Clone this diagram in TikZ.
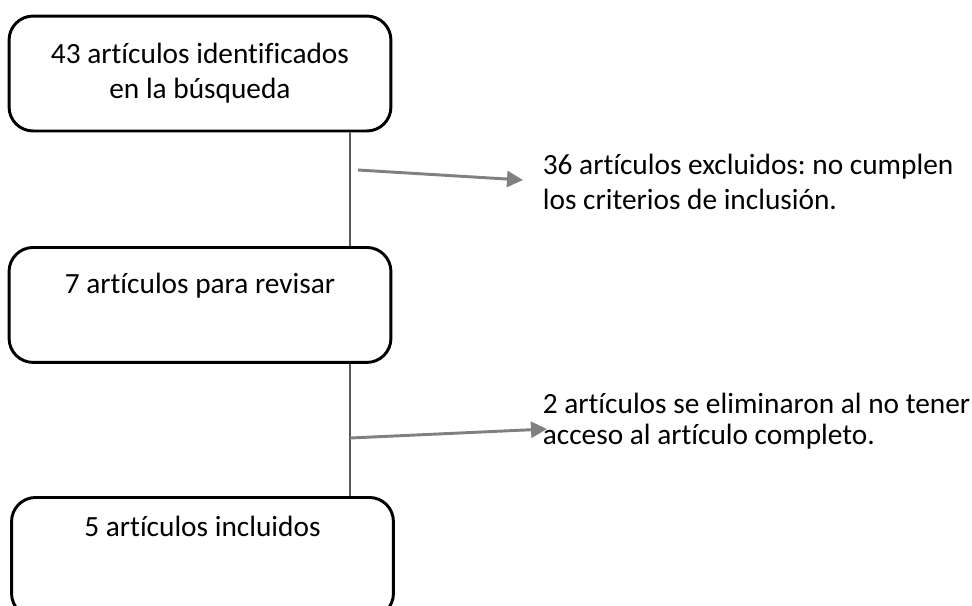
\documentclass[tikz,border=0pt]{standalone}
\usepackage{fontspec}
\setmainfont{Carlito}[Ligatures=NoCommon]
\frenchspacing
\usetikzlibrary{arrows.meta}
\usetikzlibrary{positioning}

\begin{document}
\begin{tikzpicture}[
  x=0.375pt,y=-0.375pt,
  font=\fontsize{11}{13.2}\selectfont,
  stage/.style={draw,line width=1.1pt,rounded corners=9pt,minimum width=143.2pt,align=center,inner xsep=4pt},
  note/.style={align=left,anchor=west,inner sep=2pt},
  link/.style={draw=black!65,line width=0.8pt},
  to/.style={-{Triangle[length=6pt,width=6pt]},draw=black!50,line width=1.1pt}]

  \useasboundingbox (0,0) rectangle (972,605);

  % The three stages of the review
  \node[stage,minimum height=43.1pt,inner ysep=9.5pt] (found) at (200,73.5)
     {43 artículos identificados\\en la búsqueda};
  \node[stage,anchor=north,inner ysep=9.25pt,text height=8pt,text depth=16.6pt]
     (review) at (200,246) {7 artículos para revisar};
  \node[stage,anchor=north,inner ysep=6.6pt,text height=8pt,text depth=23.8pt]
     (kept) at (202.5,496) {5 artículos incluidos};

  % What was left out at each step
  \node[note] (drop1) at (537,182) {36 artículos excluidos: no cumplen\\los criterios de inclusión.};
  \node[note,font=\fontsize{11}{11.6}\selectfont] (drop2) at (537,421)
     {2 artículos se eliminaron al no tener\\acceso al artículo completo.};

  \coordinate (spine) at (350,0);
  \coordinate (cut1) at (358,170);
  \coordinate (cut2) at (350,438);

  % Draw the line down and the arrows out to the side
  \draw[link] (found.south -| spine) -- (review.north -| spine);
  \draw[link] (review.south -| spine) -- (kept.north -| spine);
  \draw[to] (cut1) -- ([shift={(-14,-2)}]drop1.west);
  \draw[to] (cut2) -- ([shift={(10,8)}]drop2.west);
\end{tikzpicture}
\end{document}
